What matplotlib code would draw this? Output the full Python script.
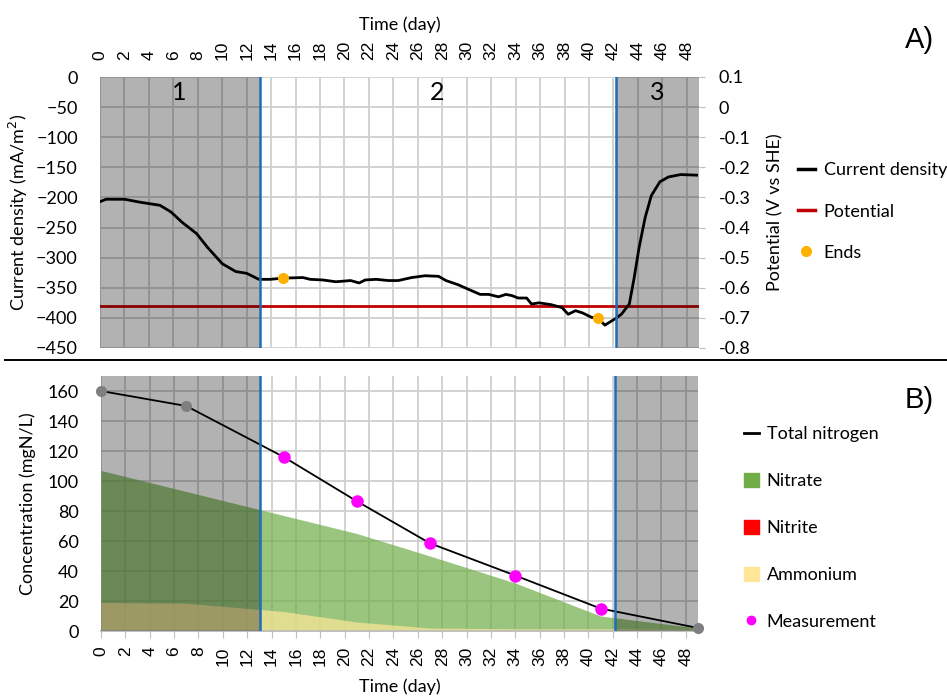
import numpy as np
import matplotlib.pyplot as plt
from matplotlib.lines import Line2D
from matplotlib.patches import Patch

# --- data ---
cd_day = [0, 0.5, 2, 3.3, 4.9, 5.8, 6.7, 7.9, 8.8, 10.0, 11.1, 12.0, 13.0, 13.9, 15.0,
          16.6, 17.2, 18.2, 19.3, 20.5, 21.2, 21.7, 22.6, 23.6, 24.4, 25.5, 26.6, 27.7,
          28.3, 29.3, 30.3, 31.1, 31.8, 32.6, 33.2, 33.7, 34.2, 34.9, 35.3, 35.9, 36.9,
          37.8, 38.3, 38.9, 39.5, 40.2, 40.75, 41.3, 42.1, 42.65, 43.3, 43.7, 44.1, 44.6,
          45.1, 45.8, 46.5, 47.5, 48.8]
cd_val = [-207, -203, -203, -208, -213, -224, -241, -260, -283, -310, -323, -326, -336,
          -336, -334, -333, -336, -337, -340, -338, -342, -337, -336, -338, -338, -333,
          -330, -331, -338, -345, -354, -361, -361, -365, -361, -363, -367, -367, -377,
          -375, -378, -383, -394, -388, -392, -399, -401, -412, -402, -394, -377, -333,
          -283, -233, -197, -174, -166, -162, -163]
pot_day = [0, 49]
pot_val = [-0.66, -0.66]
ends_day = [15, 40.75]
ends_val = [-334, -400]
pot_ticks = [-0.8, -0.7, -0.6, -0.5, -0.4, -0.3, -0.2, -0.1, 0, 0.1]
pot_lbls = ["-0.8", "-0.7", "-0.6", "-0.5", "-0.4", "-0.3", "-0.2", "-0.1", "0", "0.1"]

n_day = [0, 7, 15, 21, 27, 34, 41, 49]
total_n = [160, 150, 116, 86.5, 58.5, 37, 15, 2]
nitrate = [107, 93, 77, 65, 50, 32, 10, 2]
nitrite = [0, 0, 0, 0, 0, 0, 0, 0]
ammonium = [19, 18.5, 13, 6, 2, 1.5, 1.5, 1]
meas_day = [15, 21, 27, 34, 41]
meas_val = [116, 86.5, 58.5, 37, 15]
grey_day = [0, 7, 49]
grey_val = [160, 150, 2]

phase_cut = [13.05, 42.2]
phase_lbl = ["1", "2", "3"]
phase_x = [6.5, 27.6, 45.6]

fnt = "Lato"
arial = "Liberation Sans"
grid_c = "#cfcfcf"

fig = plt.figure(figsize=(9.47, 6.97), dpi=100)
W, H = 947, 697

def box(l, t, r, b):
    return [l / W, 1 - b / H, (r - l) / W, (b - t) / H]

# ---------------- A) ----------------
ax1 = fig.add_axes(box(100, 77, 699, 348))
ax1.set_xlim(0, 49)
ax1.set_ylim(-450, 0)
ax1.set_xticks(np.arange(0, 49, 2))
ax1.set_yticks(np.arange(-450, 1, 50))
ax1.grid(True, color=grid_c, lw=1.3, zorder=0)
ax1.set_axisbelow(True)
ax1.xaxis.tick_top()
ax1.xaxis.set_label_position("top")
ax1.tick_params(axis="x", length=0, pad=12, labelrotation=90, labelsize=12.5)
ax1.tick_params(axis="y", length=0, pad=16, labelsize=13)
for t in ax1.get_xticklabels():
    t.set_fontfamily(arial)
for t in ax1.get_yticklabels():
    t.set_fontfamily(fnt)
ax1.set_xlabel("Time (day)", fontfamily=fnt, fontsize=13, labelpad=8)
ax1.set_ylabel("Current density (mA/m$^2$)", fontfamily=fnt, fontsize=13, labelpad=4)
for s in ax1.spines.values():
    s.set_visible(False)

ax1r = ax1.twinx()
ax1r.plot(pot_day, pot_val, color="#c00000", lw=2, zorder=3)
ax1r.set_ylim(-0.8, 0.1)
ax1r.set_yticks(pot_ticks)
ax1r.set_yticklabels(pot_lbls)
ax1r.tick_params(axis="y", length=4, color="#bfbfbf", pad=10, labelsize=13)
for t in ax1r.get_yticklabels():
    t.set_fontfamily(fnt)
ax1r.set_ylabel("Potential (V vs SHE)", fontfamily=fnt, fontsize=13, labelpad=12)
for s in ax1r.spines.values():
    s.set_visible(False)

for a0, a1 in [(0, phase_cut[0]), (phase_cut[1], 49)]:
    ax1r.axvspan(a0, a1, color="black", alpha=0.3, lw=0, zorder=5)
for c in phase_cut:
    ax1r.axvline(c, color="#1f6db4", lw=1.8, zorder=7)
# current density drawn on the potential axis (1 V = 500 mA/m2, 0.1 V = 0 mA/m2)
ax1r.plot(cd_day, np.array(cd_val) / 500.0 + 0.1, color="black", lw=2, zorder=6)
ax1r.plot(np.array(ends_day), np.array(ends_val) / 500.0 + 0.1, "o", color="#ffb000",
          ms=8, mec="none", zorder=8)
for x, s in zip(phase_x, phase_lbl):
    ax1r.text(x, 0.05, s, ha="center", va="center", fontsize=18, fontfamily=fnt, zorder=9)

h_top = [Line2D([], [], color="black", lw=2.5),
         Line2D([], [], color="#c00000", lw=2.5),
         Line2D([], [], ls="none", marker="o", color="#ffb000", mec="none", ms=8)]
fig.legend(h_top, ["Current density", "Potential", "Ends"], loc="upper left",
           bbox_to_anchor=(782 / W, 1 - 146 / H), frameon=False, handlelength=0.9,
           handletextpad=0.5, labelspacing=1.4, prop={"family": fnt, "size": 13})

# ---------------- B) ----------------
ax2 = fig.add_axes(box(101, 376, 698, 631))
ax2.fill_between(n_day, 0, nitrate, color="#70ad47", alpha=0.7, lw=0, zorder=1)
ax2.fill_between(n_day, 0, nitrite, color="#ff0000", alpha=0.7, lw=0, zorder=1)
ax2.fill_between(n_day, 0, ammonium, color="#ffe699", alpha=0.7, lw=0, zorder=2)
ax2.set_xlim(0, 49)
ax2.set_ylim(0, 170)
ax2.set_xticks(np.arange(0, 49, 2))
ax2.set_yticks(np.arange(0, 161, 20))
ax2.grid(True, color=grid_c, lw=1.3, zorder=0)
ax2.set_axisbelow(True)
ax2.tick_params(axis="x", length=5, color="#bfbfbf", pad=6, labelrotation=90, labelsize=12.5)
ax2.tick_params(axis="y", length=0, pad=16, labelsize=13)
for t in ax2.get_xticklabels():
    t.set_fontfamily(arial)
for t in ax2.get_yticklabels():
    t.set_fontfamily(fnt)
ax2.set_xlabel("Time (day)", fontfamily=fnt, fontsize=13, labelpad=9)
ax2.set_ylabel("Concentration (mgN/L)", fontfamily=fnt, fontsize=13, labelpad=8)
for k, s in ax2.spines.items():
    s.set_visible(k == "bottom")
ax2.spines["bottom"].set_color("#bfbfbf")
ax2.spines["bottom"].set_linewidth(1.3)

for a0, a1 in [(0, phase_cut[0]), (phase_cut[1], 49)]:
    ax2.axvspan(a0, a1, color="black", alpha=0.3, lw=0, zorder=4)
for c in phase_cut:
    ax2.axvline(c, color="#1f6db4", lw=1.8, zorder=6)
ax2.plot(n_day, total_n, color="black", lw=1.3, zorder=5)
ax2.plot(grey_day, grey_val, "o", color="#7f7f7f", ms=8, mec="none", zorder=7, clip_on=False)
ax2.plot(meas_day, meas_val, "o", color="#ff00ff", ms=9, mec="none", zorder=7)

h_bot = [Line2D([], [], color="black", lw=2),
         Patch(color="#70ad47"),
         Patch(color="#ff0000"),
         Patch(color="#ffe699"),
         Line2D([], [], ls="none", marker="o", color="#ff00ff", mec="none", ms=7)]
fig.legend(h_bot, ["Total nitrogen", "Nitrate", "Nitrite", "Ammonium", "Measurement"],
           loc="upper left", bbox_to_anchor=(728 / W, 1 - 410 / H), frameon=False,
           handlelength=0.8, handleheight=0.8, handletextpad=0.45, labelspacing=1.7,
           prop={"family": fnt, "size": 13})

fig.add_artist(Line2D([0.005, 1.0], [1 - 360 / H, 1 - 360 / H], color="black", lw=1.4))
fig.text(905 / W, 1 - 40 / H, "A)", fontfamily=arial, fontsize=21, va="center")
fig.text(905 / W, 1 - 400 / H, "B)", fontfamily=arial, fontsize=21, va="center")

fig.savefig("out.png", dpi=100)
